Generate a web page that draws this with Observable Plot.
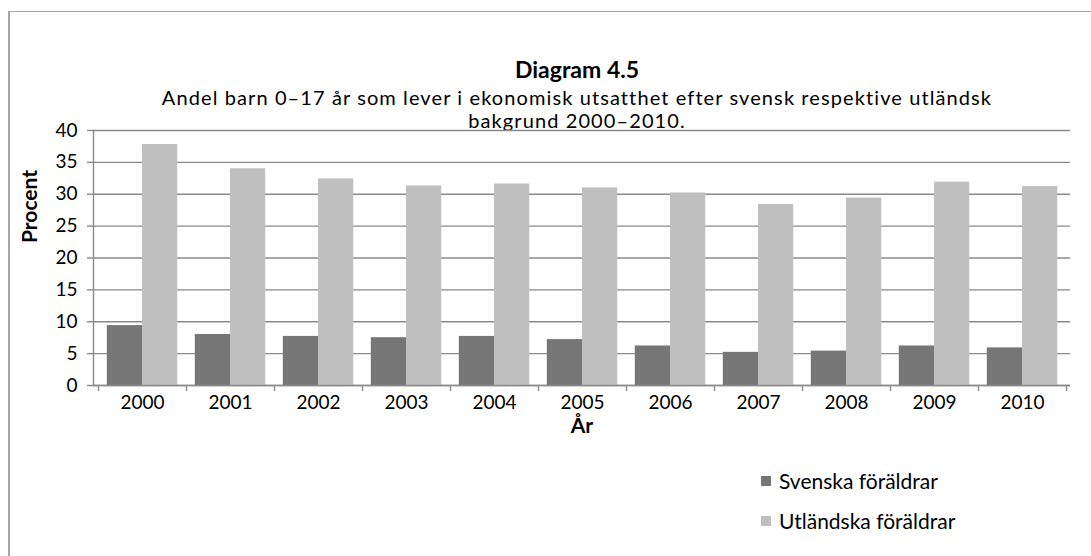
<!DOCTYPE html>
<html><head><meta charset="utf-8">
<script src="https://cdn.jsdelivr.net/npm/d3@7"></script>
<script src="https://cdn.jsdelivr.net/npm/@observablehq/plot@0.6"></script>
<style>
body{margin:0;background:#fff;font-family:Lato,"Open Sans",sans-serif;color:#000;}
#wrap{position:relative;width:1091px;height:556px;overflow:hidden;background:#fff;}
#box{position:absolute;left:8px;top:11px;width:1083px;height:545px;border-top:1.5px solid #a6a6a6;border-left:2px solid #a6a6a6;box-sizing:border-box;}
#title{position:absolute;left:77px;width:1000px;top:56px;text-align:center;font-weight:bold;font-size:23px;line-height:26px;}
#sub{position:absolute;left:27px;width:1100px;top:86px;text-align:center;font-size:20px;line-height:23px;letter-spacing:1.1px;}
#chart{position:absolute;left:0;top:110px;}
#chart svg{background:transparent !important;}
.leg{position:absolute;left:761px;font-size:21px;line-height:24px;display:flex;align-items:center;}
.leg span.sw{display:inline-block;width:10px;height:10px;margin-right:8px;}
</style></head>
<body>
<div id="wrap">
  <div id="box"></div>
  <div id="title">Diagram 4.5</div>
  <div id="sub">Andel barn 0–17 år som lever i ekonomisk utsatthet efter svensk respektive utländsk<br>bakgrund 2000–2010.</div>
  <div id="chart"></div>
  <div class="leg" style="top:469px"><span class="sw" style="background:#767676"></span>Svenska föräldrar</div>
  <div class="leg" style="top:509px"><span class="sw" style="background:#bfbfbf"></span>Utländska föräldrar</div>
</div>
<script>
const years = ["2000","2001","2002","2003","2004","2005","2006","2007","2008","2009","2010"];
const svenska = [9.4, 8.0, 7.7, 7.5, 7.7, 7.2, 6.2, 5.2, 5.4, 6.2, 5.9];
const utlandska = [37.8, 34.0, 32.4, 31.3, 31.6, 31.0, 30.2, 28.4, 29.4, 31.9, 31.2];
const yTicks = [0,5,10,15,20,25,30,35,40];
const yLabel = "Procent";
const xLabel = "År";

const rowsS = years.map((y,i)=>({year:y, value:svenska[i]}));
const rowsU = years.map((y,i)=>({year:y, value:utlandska[i]}));

const W = 1091, H = 340, mL = 93, mR = 21, mT = 20, mB = 65;

function build(bw){
  const outer = bw * 0.1, inner = bw / 2;
  return Plot.plot({
    width: W, height: H,
    marginLeft: mL, marginRight: mR, marginTop: mT, marginBottom: mB,
    style: {fontFamily: "Lato, 'Open Sans', sans-serif", fontSize: "19px", color: "#000", background: "transparent", overflow: "visible"},
    x: {type: "band", domain: years, padding: 0},
    y: {domain: [0, 40]},
    marks: [
      Plot.ruleY(yTicks, {stroke: "#8a8a8a", strokeWidth: 1.4}),
      Plot.barY(rowsS, {x: "year", y: "value", fill: "#767676", insetLeft: outer, insetRight: inner}),
      Plot.barY(rowsU, {x: "year", y: "value", fill: "#bfbfbf", insetLeft: inner, insetRight: outer}),
      Plot.ruleY([0], {stroke: "#8a8a8a", strokeWidth: 1.4}),
      Plot.ruleX(years, {x: d => d, dx: -bw/2, stroke: "#8a8a8a", strokeWidth: 1.4, insetTop: H - mT - mB, insetBottom: -6}),
      Plot.ruleX([years[years.length-1]], {x: d => d, dx: bw/2, stroke: "#8a8a8a", strokeWidth: 1.4, insetTop: H - mT - mB, insetBottom: -6}),
      Plot.frame({anchor: "left", stroke: "#8a8a8a", strokeWidth: 1.4}),
      Plot.axisY({ticks: yTicks, tickSize: 6, tickPadding: 10, stroke: "#8a8a8a", strokeWidth: 1.4, label: null, fontSize: 19}),
      Plot.axisX({tickSize: 0, tickPadding: 10, label: null, fontSize: 19}),
      Plot.text([xLabel], {text: d => d, frameAnchor: "bottom", dy: 47, fontWeight: "bold", fontSize: 21}),
      Plot.text([yLabel], {text: d => d, frameAnchor: "left", rotate: -90, dx: -63, dy: -15, fontWeight: "bold", fontSize: 21})
    ]
  });
}
const probe = build(80);
const bw = probe.scale("x").bandwidth;
document.getElementById("chart").appendChild(build(bw));
</script>
</body></html>
